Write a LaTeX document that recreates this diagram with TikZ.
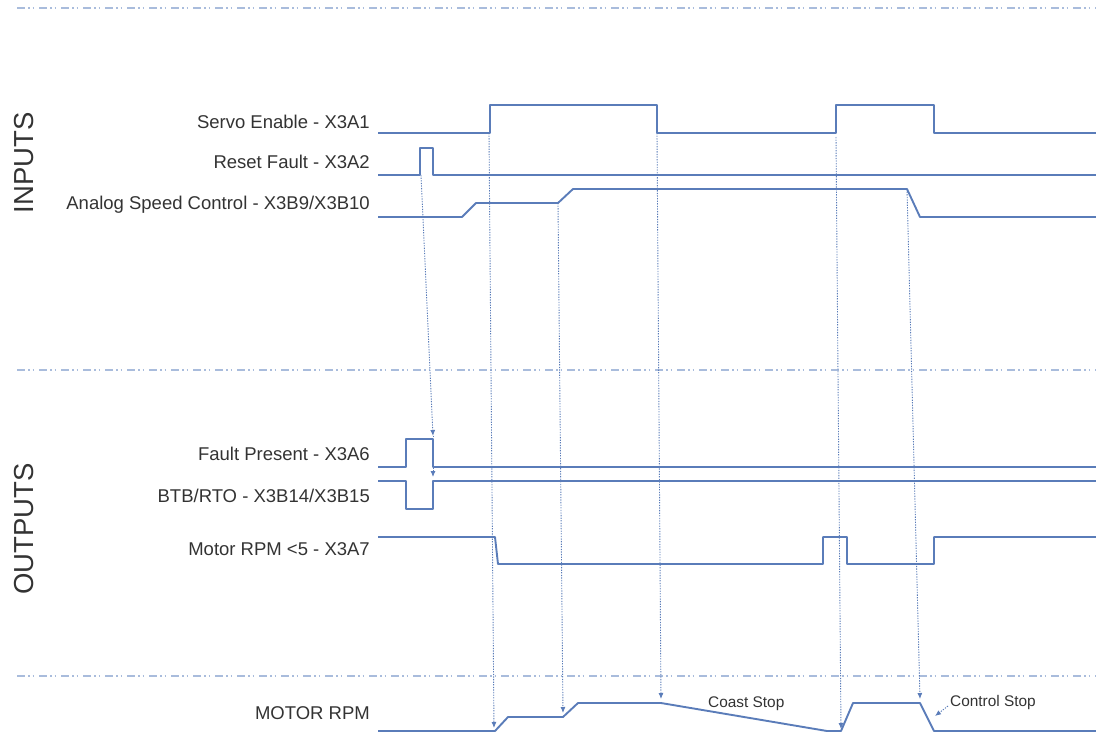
\documentclass[tikz,border=0pt]{standalone}
\usepackage{fontspec}
\setmainfont{Liberation Sans}
\usetikzlibrary{arrows.meta}
\definecolor{sigblue}{HTML}{5A7CB9}
\definecolor{seplight}{HTML}{A9BCDC}
\definecolor{labelgray}{HTML}{333333}
\begin{document}
\begin{tikzpicture}[x=1pt, y=-1pt,
  signal/.style={sigblue, line width=1.9pt, line join=round},
  separator/.style={seplight, line width=2pt, dash pattern=on 8pt off 3pt on 1.5pt off 3pt on 1.5pt off 5pt},
  guide/.style={sigblue, line width=0.9pt, dash pattern=on 1.3pt off 1.3pt, -{Latex[length=6pt,width=5pt]}},
  siglabel/.style={anchor=base east, text=labelgray, font=\fontsize{18.5}{20}\selectfont, inner sep=0pt},
  grouplabel/.style={rotate=90, text=labelgray, font=\fontsize{27.5}{30}\selectfont, inner sep=0pt},
  notelabel/.style={anchor=base west, text=labelgray, font=\fontsize{15.4}{17}\selectfont, inner sep=0pt}]
  \useasboundingbox (0,0) rectangle (1096,734);

  % Section separators
  \draw[separator] (17,8) -- (1096,8);
  \draw[separator] (17,370) -- (1096,370);
  \draw[separator] (17,676) -- (1096,676);

  % Group titles
  \node[grouplabel] (inputs) at (24,163) {INPUTS};
  \node[grouplabel] (outputs) at (24,529) {OUTPUTS};

  % Signal names
  \node[siglabel] (lservo) at (370,128) {Servo Enable - X3A1};
  \node[siglabel] (lreset) at (370,168) {Reset Fault - X3A2};
  \node[siglabel] (lanalog) at (370,209) {Analog Speed Control - X3B9/X3B10};
  \node[siglabel] (lfault) at (370,460) {Fault Present - X3A6};
  \node[siglabel] (lbtb) at (370,502) {BTB/RTO - X3B14/X3B15};
  \node[siglabel] (lrpm5) at (370,555) {Motor RPM <5 - X3A7};
  \node[siglabel] (lrpm) at (370,719) {MOTOR RPM};

  % Inputs
  \draw[signal] (378,133) -- (490,133) -- (490,105) -- (657,105) -- (657,133) -- (836,133)
    -- (836,105) -- (934,105) -- (934,133) -- (1096,133);
  \draw[signal] (378,175) -- (420,175) -- (420,148) -- (433,148) -- (433,175) -- (1096,175);
  \draw[signal] (378,217) -- (462,217) -- (476,203) -- (558,203) -- (573,189) -- (907,189)
    -- (920,217) -- (1096,217);

  % Outputs
  \draw[signal] (378,467) -- (406,467) -- (406,439) -- (433,439) -- (433,467) -- (1096,467);
  \draw[signal] (378,481) -- (406,481) -- (406,509) -- (433,509) -- (433,481) -- (1096,481);
  \draw[signal] (378,537) -- (495,537) -- (498,564) -- (823,564) -- (823,537) -- (847,537)
    -- (847,564) -- (934,564) -- (934,537) -- (1096,537);

  % Motor speed
  \draw[signal] (378,731) -- (495,731) -- (508,717) -- (563,717) -- (578,703) -- (661,703)
    -- (827,731) -- (841,731) -- (853,703) -- (920,703) -- (934,731) -- (1096,731);
  \node[notelabel] (coast) at (708,707) {Coast Stop};
  \node[notelabel] (control) at (950,706) {Control Stop};

  % Cause and effect guides
  \coordinate (rf) at (421,175);
  \coordinate (fp) at (433,436);
  \coordinate (btb) at (433,477);
  \coordinate (se1) at (489,133);
  \coordinate (m1) at (494,728);
  \coordinate (as1) at (558,203);
  \coordinate (m2) at (563,713);
  \coordinate (se2) at (657,133);
  \coordinate (m3) at (661,699);
  \coordinate (se3) at (836,137);
  \coordinate (m4) at (841,729);
  \coordinate (as2) at (907,189);
  \coordinate (m5) at (920,699);
  \coordinate (ramp) at (935,716);
  \draw[guide] (rf) -- (fp);
  \draw[guide] (fp) -- (btb);
  \draw[guide] (se1) -- (m1);
  \draw[guide] (as1) -- (m2);
  \draw[guide] (se2) -- (m3);
  \draw[guide] (se3) -- (m4);
  \draw[guide] (as2) -- (m5);
  \draw[guide] ([xshift=-2pt]control.base west) -- (ramp);
\end{tikzpicture}
\end{document}
